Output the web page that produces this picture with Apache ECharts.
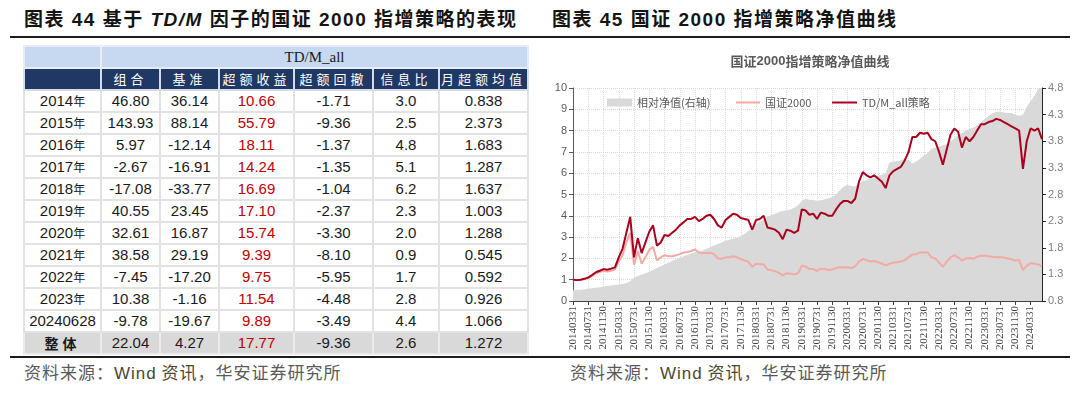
<!DOCTYPE html>
<html><head><meta charset="utf-8">
<script src="https://cdn.jsdelivr.net/npm/echarts@6/dist/echarts.min.js"></script>
<style>
html,body{margin:0;padding:0;background:#fff;}
body{width:1080px;height:395px;position:relative;overflow:hidden;font-family:"Liberation Sans","Noto Sans CJK SC",sans-serif;}
.ttl{position:absolute;top:8px;line-height:24px;font-size:19px;font-weight:bold;letter-spacing:1.5px;color:#141414;white-space:nowrap;font-family:"Liberation Sans","Noto Sans CJK SC",sans-serif;}
.rule{position:absolute;left:10px;width:1060px;height:2px;background:#1c1c1c;}
.src{position:absolute;top:360px;line-height:24px;font-size:17px;letter-spacing:1px;color:#5a5a5a;white-space:nowrap;font-family:"Noto Sans CJK SC",sans-serif;}
.src .w{color:#4b4733;font-family:"Liberation Sans",sans-serif;}
.src .z{color:#4b4733;}
#tbl{position:absolute;left:23px;top:45px;width:504px;border-collapse:collapse;table-layout:fixed;}
#tbl td{padding:0;height:20px;line-height:18px;text-align:center;font-size:15px;color:#1a1a1a;border:2px solid #e2e2e2;white-space:nowrap;overflow:hidden;}
#tbl tr.h1 td{background:#c6d9f0;border-color:#e6edf6;font-family:"Liberation Serif",serif;font-size:15px;}
#tbl tr.h2 td{background:#1f3864;color:#fff;border-color:#d6dce6;font-family:"Noto Sans CJK SC",sans-serif;font-size:13px;letter-spacing:4px;}
#tbl td.red{color:#c00000;}
#tbl td .yr{font-size:12px;font-family:"Noto Sans CJK SC",sans-serif;}
#tbl tr.tot td{background:#d9d9d9;border-color:#ececec;}
#tbl tr.tot td.lab{font-family:"Noto Sans CJK SC",sans-serif;font-weight:bold;font-size:14px;letter-spacing:4px;}
#chart{position:absolute;left:540px;top:0;width:540px;height:395px;}
</style>
</head><body>
<div class="ttl" style="left:24px;">图表 44 基于 <i>TD/M</i> 因子的国证 2000 指增策略的表现</div>
<div class="ttl" style="left:552px;">图表 45 国证 2000 指增策略净值曲线</div>
<div class="rule" style="top:36px;"></div>
<div class="rule" style="top:356px;"></div>
<table id="tbl">
<colgroup><col style="width:77px"><col style="width:59px"><col style="width:59px"><col style="width:75px"><col style="width:79px"><col style="width:66px"><col style="width:89px"></colgroup>
<tbody id="tb"></tbody>
</table>
<div class="src" style="left:24px;">资料来源：<span class="w">Wind</span> <span class="z">资讯</span>，华安证券研究所</div>
<div class="src" style="left:570px;">资料来源：<span class="w">Wind</span> <span class="z">资讯</span>，华安证券研究所</div>
<div id="chart"></div>
<script>
// ---------- table data ----------
const tableGroup = "TD/M_all";
const tableHeaders = ["组合","基准","超额收益","超额回撤","信息比","月超额均值"];
const rowLabels = ["2014","2015","2016","2017","2018","2019","2020","2021","2022","2023","20240628","整体"];
const portfolioRet = ["46.80","143.93","5.97","-2.67","-17.08","40.55","32.61","38.58","-7.45","10.38","-9.78","22.04"];
const benchmarkRet = ["36.14","88.14","-12.14","-16.91","-33.77","23.45","16.87","29.19","-17.20","-1.16","-19.67","4.27"];
const excessRet = ["10.66","55.79","18.11","14.24","16.69","17.10","15.74","9.39","9.75","11.54","9.89","17.77"];
const excessDrawdown = ["-1.71","-9.36","-1.37","-1.35","-1.04","-2.37","-3.30","-8.10","-5.95","-4.48","-3.49","-9.36"];
const infoRatio = ["3.0","2.5","4.8","5.1","6.2","2.3","2.0","0.9","1.7","2.8","4.4","2.6"];
const monthlyExcess = ["0.838","2.373","1.683","1.287","1.637","1.003","1.288","0.545","0.592","0.926","1.066","1.272"];

// ---------- chart data ----------
const chartTitle = "国证2000指增策略净值曲线";
const seriesNames = ["相对净值(右轴)","国证2000","TD/M_all策略"];
const categories = [
"20140331","20140430","20140531","20140630","20140731","20140831","20140930","20141031","20141130","20141231",
"20150131","20150228","20150331","20150430","20150531","20150630","20150731","20150831","20150930","20151031","20151130","20151231",
"20160131","20160229","20160331","20160430","20160531","20160630","20160731","20160831","20160930","20161031","20161130","20161231",
"20170131","20170228","20170331","20170430","20170531","20170630","20170731","20170831","20170930","20171031","20171130","20171231",
"20180131","20180228","20180331","20180430","20180531","20180630","20180731","20180831","20180930","20181031","20181130","20181231",
"20190131","20190228","20190331","20190430","20190531","20190630","20190731","20190831","20190930","20191031","20191130","20191231",
"20200131","20200229","20200331","20200430","20200531","20200630","20200731","20200831","20200930","20201031","20201130","20201231",
"20210131","20210228","20210331","20210430","20210531","20210630","20210731","20210831","20210930","20211031","20211130","20211231",
"20220131","20220228","20220331","20220430","20220531","20220630","20220731","20220831","20220930","20221031","20221130","20221231",
"20230131","20230228","20230331","20230430","20230531","20230630","20230731","20230831","20230930","20231031","20231130","20231231",
"20240131","20240229","20240331","20240430","20240531","20240628"];
const strategyNav = [
1.00,0.98,1.00,1.04,1.10,1.22,1.35,1.42,1.50,1.47,
1.52,1.58,2.05,2.45,3.20,3.95,2.05,2.95,2.25,2.75,
3.25,3.55,2.60,2.75,3.10,3.05,3.20,3.35,3.55,3.70,
3.85,3.85,3.95,3.75,3.85,4.00,4.05,3.85,3.55,3.45,
3.80,3.95,4.10,4.05,3.90,3.85,3.80,3.35,3.80,3.85,
4.00,3.45,3.40,3.35,3.20,2.90,3.35,3.30,3.20,3.30,
4.30,4.25,4.05,4.10,3.85,4.15,4.10,4.00,4.00,4.30,
4.55,4.70,4.70,4.60,4.80,5.60,6.05,5.90,5.80,5.90,
5.75,5.60,5.30,5.90,6.10,6.20,6.30,6.60,7.00,7.70,
7.70,7.90,7.85,7.90,7.60,7.50,7.00,6.40,7.10,7.80,
8.10,7.95,7.20,7.70,7.50,7.70,8.00,8.30,8.30,8.40,
8.45,8.55,8.50,8.40,8.30,8.20,8.10,8.00,6.20,7.50,
8.10,8.00,8.10,7.60];
const indexNav = [
1.00,0.98,1.00,1.03,1.08,1.18,1.30,1.36,1.42,1.38,
1.42,1.48,1.85,2.15,2.75,3.20,1.70,2.35,1.75,2.05,
2.40,2.55,1.90,2.05,2.15,2.10,2.10,2.15,2.20,2.28,
2.30,2.35,2.42,2.28,2.25,2.25,2.25,2.20,2.00,1.98,
2.05,2.05,2.10,2.05,1.97,1.90,1.85,1.60,1.75,1.72,
1.72,1.48,1.45,1.40,1.32,1.20,1.30,1.28,1.25,1.30,
1.65,1.62,1.50,1.50,1.42,1.52,1.50,1.46,1.48,1.55,
1.58,1.57,1.58,1.55,1.62,1.85,1.97,1.92,1.85,1.88,
1.82,1.76,1.67,1.75,1.80,1.82,1.85,1.92,2.05,2.18,
2.20,2.28,2.28,2.28,2.05,2.00,1.80,1.60,1.85,2.05,
2.15,2.05,1.90,2.00,2.02,1.98,2.08,2.12,2.12,2.10,
2.08,2.05,2.06,2.04,2.00,1.96,1.90,1.92,1.45,1.65,
1.78,1.75,1.72,1.62];
const relativeNav = [
1.00,1.01,1.01,1.02,1.03,1.04,1.05,1.06,1.07,1.08,
1.09,1.10,1.11,1.12,1.14,1.17,1.24,1.27,1.30,1.32,
1.35,1.38,1.42,1.45,1.49,1.52,1.55,1.58,1.61,1.64,
1.67,1.69,1.71,1.73,1.75,1.78,1.81,1.84,1.87,1.90,
1.93,1.95,1.97,1.99,2.02,2.06,2.12,2.18,2.24,2.29,
2.33,2.38,2.41,2.44,2.47,2.49,2.50,2.52,2.55,2.60,
2.68,2.72,2.70,2.70,2.68,2.69,2.71,2.73,2.75,2.80,
2.88,2.95,2.98,2.96,2.95,3.00,3.05,3.07,3.10,3.12,
3.15,3.17,3.20,3.40,3.42,3.43,3.44,3.48,3.45,3.38,
3.42,3.47,3.53,3.58,3.66,3.68,3.70,3.72,3.75,3.80,
3.85,3.92,3.95,4.00,4.03,4.06,4.10,4.15,4.22,4.28,
4.32,4.35,4.36,4.34,4.33,4.33,4.30,4.28,4.30,4.45,
4.55,4.65,4.78,4.85];

// ---------- build table ----------
(function(){
  const tb = document.getElementById('tb');
  let html = '<tr class="h1"><td></td><td colspan="6">' + tableGroup + '</td></tr>';
  html += '<tr class="h2"><td></td>' + tableHeaders.map(h => '<td>' + h + '</td>').join('') + '</tr>';
  rowLabels.forEach((lab, i) => {
    const last = i === rowLabels.length - 1;
    let labHtml;
    if (last) labHtml = lab;
    else if (lab.length === 4) labHtml = lab + '<span class="yr">年</span>';
    else labHtml = lab;
    html += '<tr' + (last ? ' class="tot"' : '') + '>' +
      '<td class="lab">' + labHtml + '</td>' +
      '<td>' + portfolioRet[i] + '</td>' +
      '<td>' + benchmarkRet[i] + '</td>' +
      '<td class="red">' + excessRet[i] + '</td>' +
      '<td>' + excessDrawdown[i] + '</td>' +
      '<td>' + infoRatio[i] + '</td>' +
      '<td>' + monthlyExcess[i] + '</td></tr>';
  });
  tb.innerHTML = html;
})();

// ---------- chart ----------
const chart = echarts.init(document.getElementById('chart'), null, {renderer: 'canvas'});
const legendText = {color: '#595959', fontSize: 11, fontFamily: 'Noto Sans CJK SC'};
chart.setOption({
  animation: false,
  title: {
    text: '{a|国证}{b|2000}{a|指增策略净值曲线}',
    left: 'center', top: 55, padding: 0,
    textStyle: {rich: {
      a: {fontSize: 13, color: '#595959', fontFamily: 'Noto Sans CJK SC'},
      b: {fontSize: 13, color: '#595959', fontWeight: 'bold', fontFamily: 'Liberation Sans'}
    }}
  },
  legend: [
    {left: 67, top: 97, padding: 0, itemWidth: 25, itemHeight: 8, itemGap: 4, textStyle: legendText,
     data: [{name: seriesNames[0], icon: 'rect', itemStyle: {color: '#d9d9d9'}}]},
    {left: 196, top: 97, padding: 0, itemWidth: 24, itemHeight: 2, textStyle: legendText,
     data: [{name: seriesNames[1], icon: 'rect', itemStyle: {color: '#f2aaa5'}}]},
    {left: 292, top: 97, padding: 0, itemWidth: 25, itemHeight: 2, textStyle: legendText,
     data: [{name: seriesNames[2], icon: 'rect', itemStyle: {color: '#a8001e'}}]}
  ],
  grid: {left: 33, right: 38, top: 88, bottom: 94},
  xAxis: {
    type: 'category', data: categories, boundaryGap: false,
    axisLine: {lineStyle: {color: '#404040', width: 1}},
    axisTick: {interval: 3, length: 4, lineStyle: {color: '#404040'}},
    axisLabel: {interval: 3, rotate: 90, fontSize: 11, fontFamily: 'Liberation Serif', color: '#404040', margin: 5},
    splitLine: {show: true, interval: 3, lineStyle: {type: 'dotted', color: '#d9d9d9'}}
  },
  yAxis: [
    {type: 'value', min: 0, max: 10, interval: 1, position: 'left',
     axisLine: {show: true, lineStyle: {color: '#595959'}},
     axisTick: {show: true, length: 4, lineStyle: {color: '#595959'}},
     axisLabel: {color: '#595959', fontSize: 11, margin: 6, fontFamily: 'Liberation Sans'},
     splitLine: {show: true, lineStyle: {type: 'dotted', color: '#d9d9d9'}}},
    {type: 'value', min: 0.8, max: 4.8, interval: 0.5, position: 'right',
     axisLine: {show: true, lineStyle: {color: '#262626'}},
     axisTick: {show: true, length: 4, lineStyle: {color: '#262626'}},
     axisLabel: {color: '#808080', fontSize: 11, margin: 6, fontFamily: 'Liberation Sans', formatter: v => v.toFixed(1)},
     splitLine: {show: false}}
  ],
  series: [
    {name: seriesNames[0], type: 'line', yAxisIndex: 1, data: relativeNav, symbol: 'none',
     lineStyle: {width: 0, color: '#d9d9d9'}, itemStyle: {color: '#d9d9d9'},
     areaStyle: {color: '#d9d9d9', opacity: 1}, z: 1},
    {name: seriesNames[1], type: 'line', yAxisIndex: 0, data: indexNav, symbol: 'none',
     lineStyle: {width: 2, color: '#f2aaa5'}, itemStyle: {color: '#f2aaa5'}, z: 2},
    {name: seriesNames[2], type: 'line', yAxisIndex: 0, data: strategyNav, symbol: 'none',
     lineStyle: {width: 2, color: '#a8001e'}, itemStyle: {color: '#a8001e'}, z: 3}
  ]
});
</script>
</body></html>
